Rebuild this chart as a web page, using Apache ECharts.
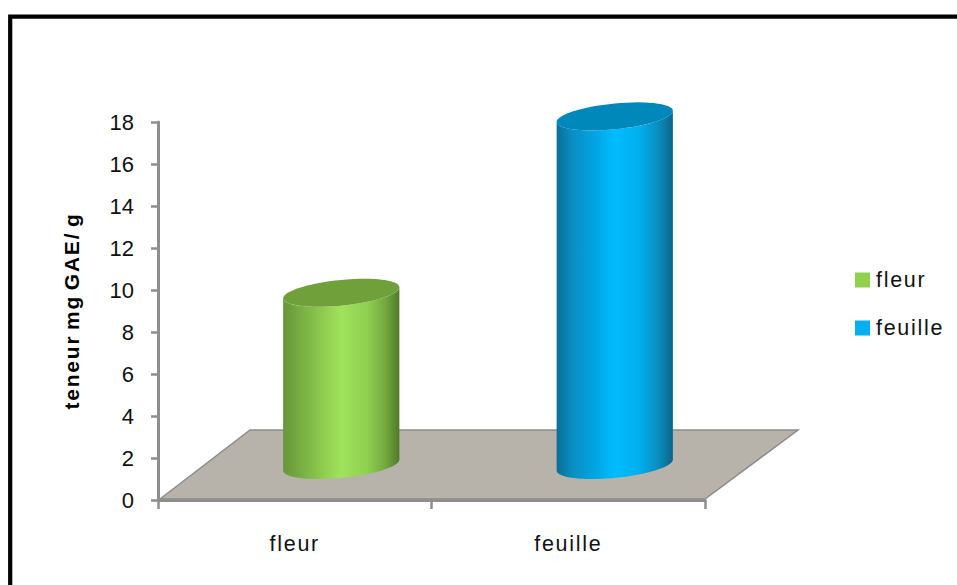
<!DOCTYPE html>
<html>
<head>
<meta charset="utf-8">
<style>
  html, body { margin: 0; padding: 0; background: #fff; }
  #chart { width: 957px; height: 585px; }
  #chart text { letter-spacing: 1.7px; }
  /* tick numbers are set tight, the axis title has narrow word gaps */
  #chart text[style*="22px"] { letter-spacing: 0; }
  #chart text[style*="bold"] { letter-spacing: 1.8px; word-spacing: -3px; }
</style>
<script src="https://cdn.jsdelivr.net/npm/echarts@6/dist/echarts.min.js"></script>
</head>
<body>
<div id="chart"></div>
<script>
// Phenolic content per plant part
const categories = ['fleur', 'feuille'];
const values = [8.2, 16.6];
const yAxisName = 'teneur mg GAE/ g';

// Colours of each part: legend swatch, cap, side shading from left to right
const swatches = ['#92d050', '#00b0f0'];
const caps = ['#70a03a', '#0088bb'];
const sideStops = [
  [[0, '#66963a'], [0.14, '#76ac42'], [0.32, '#8cc84e'], [0.5, '#a0e35c'], [0.72, '#90d052'], [0.88, '#74a83f'], [1, '#4f7a2b']],
  [[0, '#0a6e96'], [0.14, '#0a8fc4'], [0.32, '#00a4e0'], [0.5, '#00bcff'], [0.7, '#00b0ee'], [0.87, '#0a8fc0'], [1, '#0a6488']]
];

// Oblique projection of the chart floor, in pixels
const DEPTH_X = 93;
const DEPTH_Y = 70;
const RADIUS_RATIO = 0.2125;
const MINOR_AXIS = 12.9;
const TILT = 0.095;

// Points of a tilted ellipse between two angles
function arcPoints(cx, cy, a, from, to) {
  const pts = [];
  const steps = 60;
  for (let i = 0; i <= steps; i++) {
    const t = from + (to - from) * i / steps;
    pts.push([cx + a * Math.cos(t), cy + MINOR_AXIS * Math.sin(t) - a * TILT * Math.cos(t)]);
  }
  return pts;
}

function renderCylinder(index) {
  return function (params, api) {
    const base = api.coord([api.value(0), 0]);
    const top = api.coord([api.value(0), api.value(1)]);
    const a = api.size([1, 0])[0] * RADIUS_RATIO;
    const cx = base[0] + DEPTH_X / 2;
    const baseY = base[1] - DEPTH_Y / 2;
    const topY = top[1] - DEPTH_Y / 2;
    const side = arcPoints(cx, baseY, a, 0, Math.PI)
      .concat(arcPoints(cx, topY, a, Math.PI, 0));
    const stops = sideStops[index].map(s => ({ offset: s[0], color: s[1] }));
    return {
      type: 'group',
      children: [
        {
          type: 'polygon',
          shape: { points: side },
          style: { fill: new echarts.graphic.LinearGradient(0, 0, 1, 0, stops) }
        },
        {
          type: 'polygon',
          shape: { points: arcPoints(cx, topY, a, 0, Math.PI * 2) },
          style: { fill: caps[index] }
        }
      ]
    };
  };
}

function renderFloor(params) {
  const g = params.coordSys;
  const y = g.y + g.height;
  return {
    type: 'polygon',
    shape: {
      points: [
        [g.x + 2, y - 1],
        [g.x + DEPTH_X - 1, y - DEPTH_Y],
        [g.x + g.width + DEPTH_X, y - DEPTH_Y],
        [g.x + g.width, y - 1]
      ]
    },
    style: { fill: '#b7b3ab', stroke: '#8c8c8c', lineWidth: 1.5 }
  };
}

const chart = echarts.init(document.getElementById('chart'), null, { renderer: 'svg' });

const axisGrey = '#8e8e8e';
const labelFont = { fontFamily: 'Liberation Sans', color: '#111' };

chart.setOption({
  animation: false,
  backgroundColor: '#fff',
  graphic: [{
    type: 'rect',
    silent: true,
    shape: { x: 10.2, y: 16.7, width: 1200, height: 900 },
    style: { fill: 'none', stroke: '#000', lineWidth: 4.2 }
  }],
  grid: { left: 158, top: 122, width: 547, height: 378 },
  legend: {
    orient: 'vertical',
    left: 850,
    top: 264,
    icon: 'rect',
    itemWidth: 15,
    itemHeight: 15,
    itemGap: 26,
    selectedMode: false,
    data: categories,
    textStyle: Object.assign({ fontSize: 21.5, padding: [0, 0, 0, 1] }, labelFont)
  },
  xAxis: {
    type: 'category',
    data: categories,
    z: 5,
    axisLine: { lineStyle: { color: axisGrey, width: 3 } },
    axisTick: { show: true, length: 9, lineStyle: { color: axisGrey, width: 2.5 } },
    axisLabel: Object.assign({ fontSize: 21.5, margin: 33 }, labelFont)
  },
  yAxis: {
    type: 'value',
    min: 0,
    max: 18,
    interval: 2,
    z: 5,
    name: yAxisName,
    nameLocation: 'middle',
    nameGap: 76,
    nameRotate: 90,
    nameTextStyle: { fontFamily: 'Liberation Sans', fontWeight: 'bold', fontSize: 21, color: '#000' },
    splitLine: { show: false },
    axisLine: { show: true, lineStyle: { color: axisGrey, width: 3 } },
    axisTick: { show: true, length: 7, lineStyle: { color: axisGrey, width: 2.5 } },
    axisLabel: Object.assign({ fontSize: 22, margin: 24, padding: [2, 0, 0, 0] }, labelFont)
  },
  series: [
    {
      type: 'custom',
      name: 'floor',
      silent: true,
      z: 1,
      renderItem: renderFloor,
      data: [[0, 0]]
    }
  ].concat(categories.map((name, i) => ({
    type: 'custom',
    name: name,
    silent: true,
    z: 2,
    itemStyle: { color: swatches[i] },
    renderItem: renderCylinder(i),
    encode: { x: 0, y: 1 },
    data: [[i, values[i]]]
  })))
});
</script>
</body>
</html>
